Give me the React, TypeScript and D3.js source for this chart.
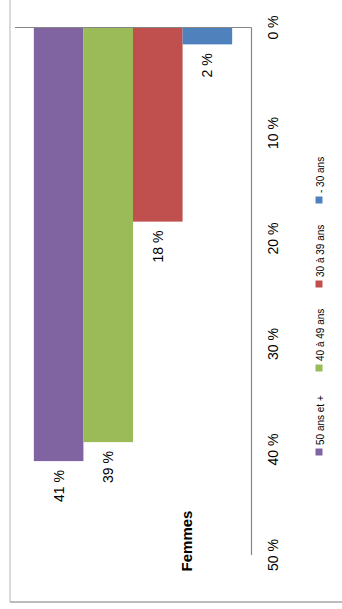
import React from "react";
import * as d3 from "d3";

const series = ["50 ans et +", "40 à 49 ans", "30 à 39 ans", "- 30 ans"];
const values = [41.1, 39.3, 18.4, 1.6];
const labels = ["41 %", "39 %", "18 %", "2 %"];
const colors = ["#8064A2", "#9BBB59", "#C0504D", "#4F81BD"];
const ticks = [0, 10, 20, 30, 40, 50];
const category = "Femmes";

export default function App() {
  const W = 342, H = 609;
  const y = d3.scaleLinear().domain([0, 50]).range([27.5, 555]);
  const x = d3.scaleBand<string>().domain(series).range([15, 251]).paddingInner(0).paddingOuter(0.38);
  const legendY = d3.scalePoint<string>().domain([...series].reverse()).range([200, 452]);
  const font = "'Liberation Sans', Arial, sans-serif";
  return (
    <svg width={W} height={H} style={{ position: "absolute", left: 0, top: 0, background: "#fff" }} fontFamily={font}>
      {/* outer frame */}
      <line x1={10} y1={0} x2={10} y2={602} stroke="#d9d9d9" strokeWidth={2} />
      <line x1={10} y1={602} x2={W} y2={602} stroke="#a6a6a6" strokeWidth={1.5} />
      {/* bars */}
      {series.map((s, i) => (
        <rect key={s} x={x(s)} y={y(0)} width={x.bandwidth()} height={y(values[i]) - y(0)} fill={colors[i]} />
      ))}
      {/* axes */}
      <line x1={15} y1={y(0)} x2={251.5} y2={y(0)} stroke="#868686" strokeWidth={1.2} />
      <line x1={251.5} y1={y(0)} x2={251.5} y2={y(50)} stroke="#868686" strokeWidth={1.2} />
      {/* tick labels */}
      {ticks.map((t) => (
        <text key={t} transform={`translate(278,${y(t)}) rotate(-90)`} textAnchor="middle" fontSize={14} fill="#000">
          {`${t} %`}
        </text>
      ))}
      {/* data labels */}
      {series.map((s, i) => (
        <text
          key={s}
          transform={`translate(${(x(s) as number) + x.bandwidth() / 2 + 5},${y(values[i]) + 9}) rotate(-90)`}
          textAnchor="end"
          fontSize={14}
          fill="#000"
        >
          {labels[i]}
        </text>
      ))}
      {/* category label */}
      <text transform={`translate(192,541) rotate(-90)`} textAnchor="middle" fontSize={15} fontWeight="bold" fill="#000">
        {category}
      </text>
      {/* legend */}
      {series.map((s, i) => {
        const cy = legendY(s) as number;
        return (
          <g key={s}>
            <rect x={315.5} y={cy - 3.5} width={7} height={7} fill={colors[i]} />
            <text transform={`translate(323.5,${cy - 7}) rotate(-90)`} textAnchor="start" fontSize={10} fill="#000">
              {s}
            </text>
          </g>
        );
      })}
    </svg>
  );
}
